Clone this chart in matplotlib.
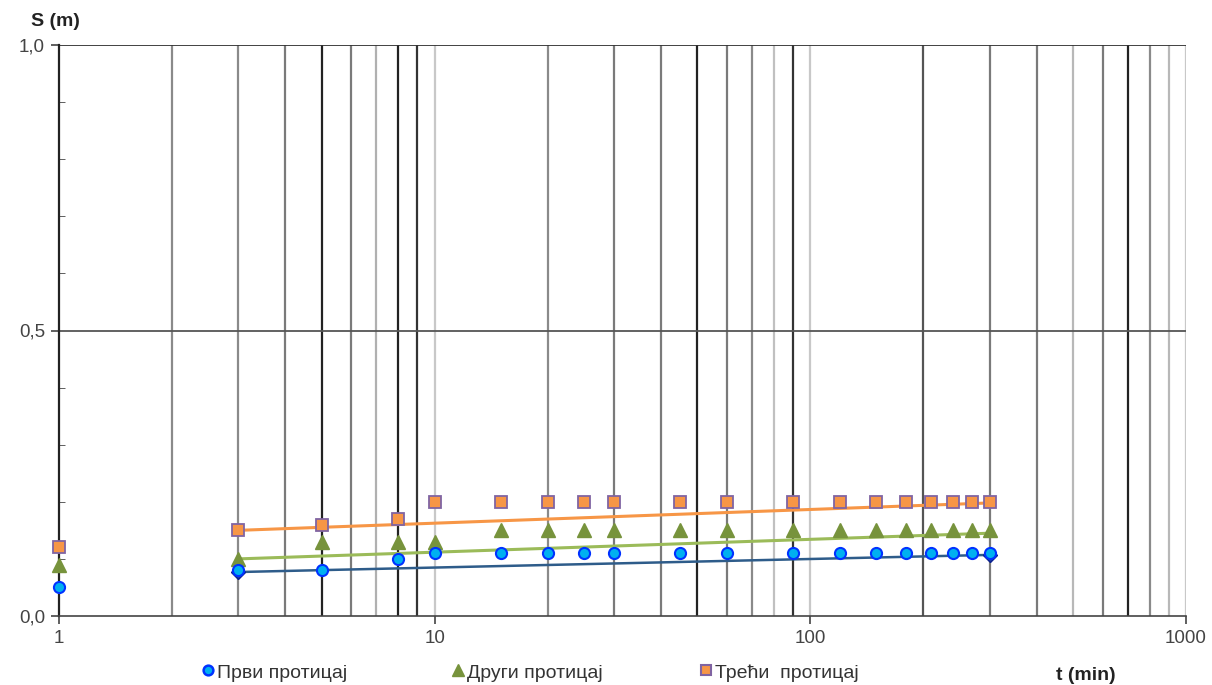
import numpy as np
import matplotlib
matplotlib.use("Agg")
import matplotlib.pyplot as plt
from matplotlib.lines import Line2D
from matplotlib.ticker import MultipleLocator, NullLocator, FixedLocator

plt.rcParams['font.family'] = ['Liberation Sans', 'DejaVu Sans']

# measured times (min) and drawdowns (m)
t = [1, 3, 5, 8, 10, 15, 20, 25, 30, 45, 60, 90, 120, 150, 180, 210, 240, 270, 300]
s_first = [0.05, 0.08, 0.08, 0.10, 0.11, 0.11, 0.11, 0.11, 0.11, 0.11,
           0.11, 0.11, 0.11, 0.11, 0.11, 0.11, 0.11, 0.11, 0.11]
s_second = [0.09, 0.10, 0.13, 0.13, 0.13, 0.15, 0.15, 0.15, 0.15, 0.15,
            0.15, 0.15, 0.15, 0.15, 0.15, 0.15, 0.15, 0.15, 0.15]
s_third = [0.12, 0.15, 0.16, 0.17, 0.20, 0.20, 0.20, 0.20, 0.20, 0.20,
           0.20, 0.20, 0.20, 0.20, 0.20, 0.20, 0.20, 0.20, 0.20]

# straight-line fits (semi-log), end points
trend_t = [3, 300]
trend_first = [0.077, 0.107]
trend_second = [0.100, 0.145]
trend_third = [0.150, 0.198]

labels = ['Први протицај', 'Други протицај', 'Трећи  протицај']

W, H = 1212, 685
fig = plt.figure(figsize=(W / 100, H / 100), dpi=100)
ax = fig.add_axes([59 / W, 1 - 616 / H, (1186 - 59) / W, (616 - 45) / H])
ax.set_xscale('log')
ax.set_xlim(1, 1000)
ax.set_ylim(0, 1.0)

# vertical grid, the shades vary like in the scanned original
grid_x = [m * 10 ** d for d in range(3) for m in range(2, 10)] + [10, 100, 1000]
grid_x = sorted(set(grid_x))
shade = {2: '#8a8a8a', 3: '#8a8a8a', 4: '#7a7a7a', 5: '#222222', 6: '#7a7a7a',
         7: '#b0b0b0', 8: '#222222', 9: '#333333', 10: '#c8c8c8',
         20: '#8a8a8a', 30: '#7a7a7a', 40: '#7a7a7a', 50: '#222222', 60: '#7a7a7a',
         70: '#8a8a8a', 80: '#c0c0c0', 90: '#333333', 100: '#c8c8c8',
         200: '#555555', 300: '#7a7a7a', 400: '#7a7a7a', 500: '#b8b8b8',
         600: '#7a7a7a', 700: '#222222', 800: '#8a8a8a', 900: '#b8b8b8', 1000: '#c8c8c8'}
for gx in grid_x:
    ax.axvline(gx, color=shade[gx], lw=1.6, zorder=1)
for gy in [0.5, 1.0]:
    ax.axhline(gy, color='#333333' if gy == 1.0 else '#555555', lw=1.3, zorder=1)

for side in ['top', 'right']:
    ax.spines[side].set_visible(False)
ax.spines['left'].set_color('#222222')
ax.spines['left'].set_linewidth(1.6)
ax.spines['bottom'].set_color('#444444')
ax.spines['bottom'].set_linewidth(1.2)

# trend lines
ax.plot(trend_t, trend_first, color='#2E5C8A', lw=1.8, zorder=3,
        marker='D', ms=7, mfc='#1F3F9F', mec='#0A1F8F')
ax.plot(trend_t, trend_second, color='#9BBB59', lw=2.2, zorder=3)
ax.plot(trend_t, trend_third, color='#F79646', lw=2.2, zorder=3)

# measured points
ax.plot(t, s_first, ls='none', marker='o', ms=8, mfc='#00B0F0', mec='#0033FF',
        mew=1.5, zorder=5, clip_on=False)
ax.plot(t, s_second, ls='none', marker='^', ms=10, mfc='#77933C', mec='#77933C',
        zorder=4, clip_on=False)
ax.plot(t, s_third, ls='none', marker='s', ms=8, mfc='#F79646', mec='#8064A2',
        mew=1.3, zorder=4, clip_on=False)

ax.xaxis.set_major_locator(FixedLocator([1, 10, 100, 1000]))
ax.xaxis.set_minor_locator(NullLocator())
ax.set_xticklabels(['1', '10', '100', '1000'])
ax.yaxis.set_major_locator(FixedLocator([0, 0.5, 1.0]))
ax.set_yticklabels(['0,0', '0,5', '1,0'])
ax.yaxis.set_minor_locator(MultipleLocator(0.1))
ax.tick_params(axis='both', which='major', labelsize=13.5, labelcolor='#444444',
               color='#444444', length=6, width=1.2, direction='out', pad=4)
ax.tick_params(axis='y', which='minor', direction='in', length=4, color='#444444')

fig.text(55 / W, 1 - 21 / H, 'S (m)', fontsize=14, fontweight='bold',
         color='#222222', ha='center', va='center')
fig.text(1086 / W, 1 - 676 / H, 't (min)', fontsize=14, fontweight='bold',
         color='#222222', ha='center', va='center')

# legend row drawn by hand to match the original spacing
leg_y = 1 - 670 / H
leg_marks = [dict(marker='o', ms=7, mfc='#00B0F0', mec='#0033FF', mew=1.8),
             dict(marker='^', ms=8, mfc='#77933C', mec='#77933C'),
             dict(marker='s', ms=7, mfc='#F79646', mec='#8064A2', mew=1.5)]
leg_x = [208, 458, 706]
for lx, style, lab in zip(leg_x, leg_marks, labels):
    fig.add_artist(Line2D([lx / W], [leg_y], transform=fig.transFigure, ls='none', **style))
    fig.text((lx + 9) / W, leg_y - 3 / H, lab, fontsize=14, color='#333333',
             ha='left', va='center')

fig.savefig('out.png', dpi=100)
